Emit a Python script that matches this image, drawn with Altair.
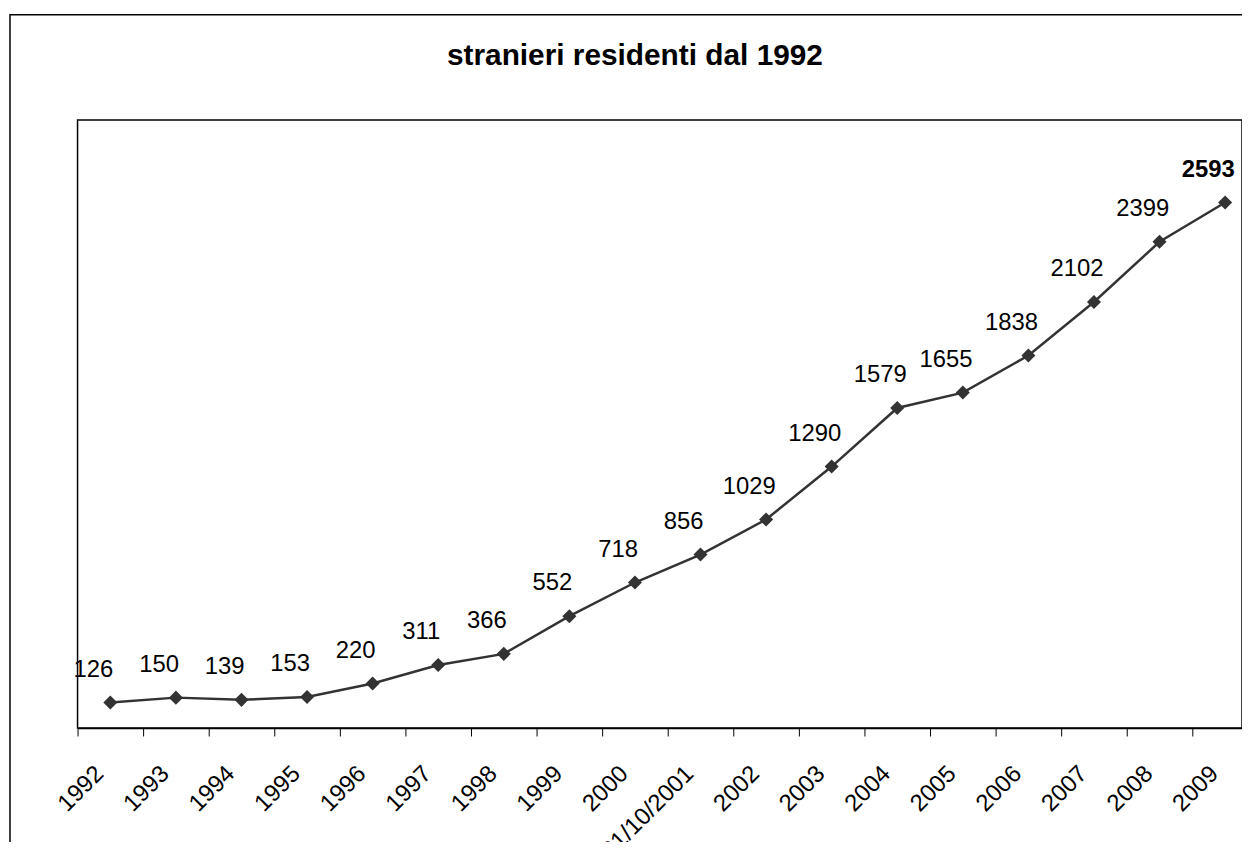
import altair as alt
import pandas as pd

years = ["1992", "1993", "1994", "1995", "1996", "1997", "1998", "1999", "2000",
         "21/10/2001", "2002", "2003", "2004", "2005", "2006", "2007", "2008", "2009"]
values = [126, 150, 139, 153, 220, 311, 366, 552, 718, 856, 1029, 1290, 1579,
          1655, 1838, 2102, 2399, 2593]
title_text = "stranieri residenti dal 1992"

df = pd.DataFrame({"year": years, "value": values})
FONT = "Liberation Sans"

x_enc = alt.X("year:N", sort=years, title=None,
              scale=alt.Scale(paddingInner=0, paddingOuter=0, range=[0, 1188]),
              axis=alt.Axis(labelAngle=-45, labelAlign="right", labelBaseline="middle",
                            labelFontSize=24, labelFont=FONT, labelColor="black",
                            labelPadding=34, labelOffset=-11, tickBand="extent",
                            tickSize=8, tickColor="black", domainColor="black",
                            domainWidth=1.5, grid=False, labelOverlap=False))
y_enc = alt.Y("value:Q", title=None, axis=None, scale=alt.Scale(domain=[0, 3000]))

base = alt.Chart(df)
line = base.mark_line(color="#333333", strokeWidth=2.5).encode(x=x_enc, y=y_enc)
pts = base.mark_point(shape="diamond", filled=True, size=200, color="#333333",
                      opacity=1).encode(x=x_enc, y=y_enc)
labels = base.transform_filter(alt.datum.year != "2009").mark_text(
    dx=-17, dy=-33, fontSize=24, font=FONT, color="black").encode(
    x=x_enc, y=y_enc, text="value:Q")
last_label = base.transform_filter(alt.datum.year == "2009").mark_text(
    dx=-17, dy=-33, fontSize=24, font=FONT, fontWeight="bold", color="black").encode(
    x=x_enc, y=y_enc, text="value:Q")

one = alt.Chart(pd.DataFrame({"t": [title_text]}))
frame = one.mark_rect(fill="transparent", stroke="black", strokeWidth=1.5).encode(
    x=alt.value(-68), y=alt.value(-106), x2=alt.value(1400), y2=alt.value(1000))
title = one.mark_text(fontSize=30, font=FONT, fontWeight="bold", color="black",
                      align="center", baseline="alphabetic").encode(
    x=alt.value(561), y=alt.value(-55), text="t:N")

chart = alt.layer(frame, title, line, pts, labels, last_label).properties(
    width=1172, height=612,
    autosize=alt.AutoSizeParams(type="none"),
    padding={"left": 70, "top": 110, "right": 0, "bottom": 112},
    background="white",
).configure_view(stroke="black", strokeWidth=1.5)

chart.save("out.html", embed_options={"renderer": "svg", "actions": False})
